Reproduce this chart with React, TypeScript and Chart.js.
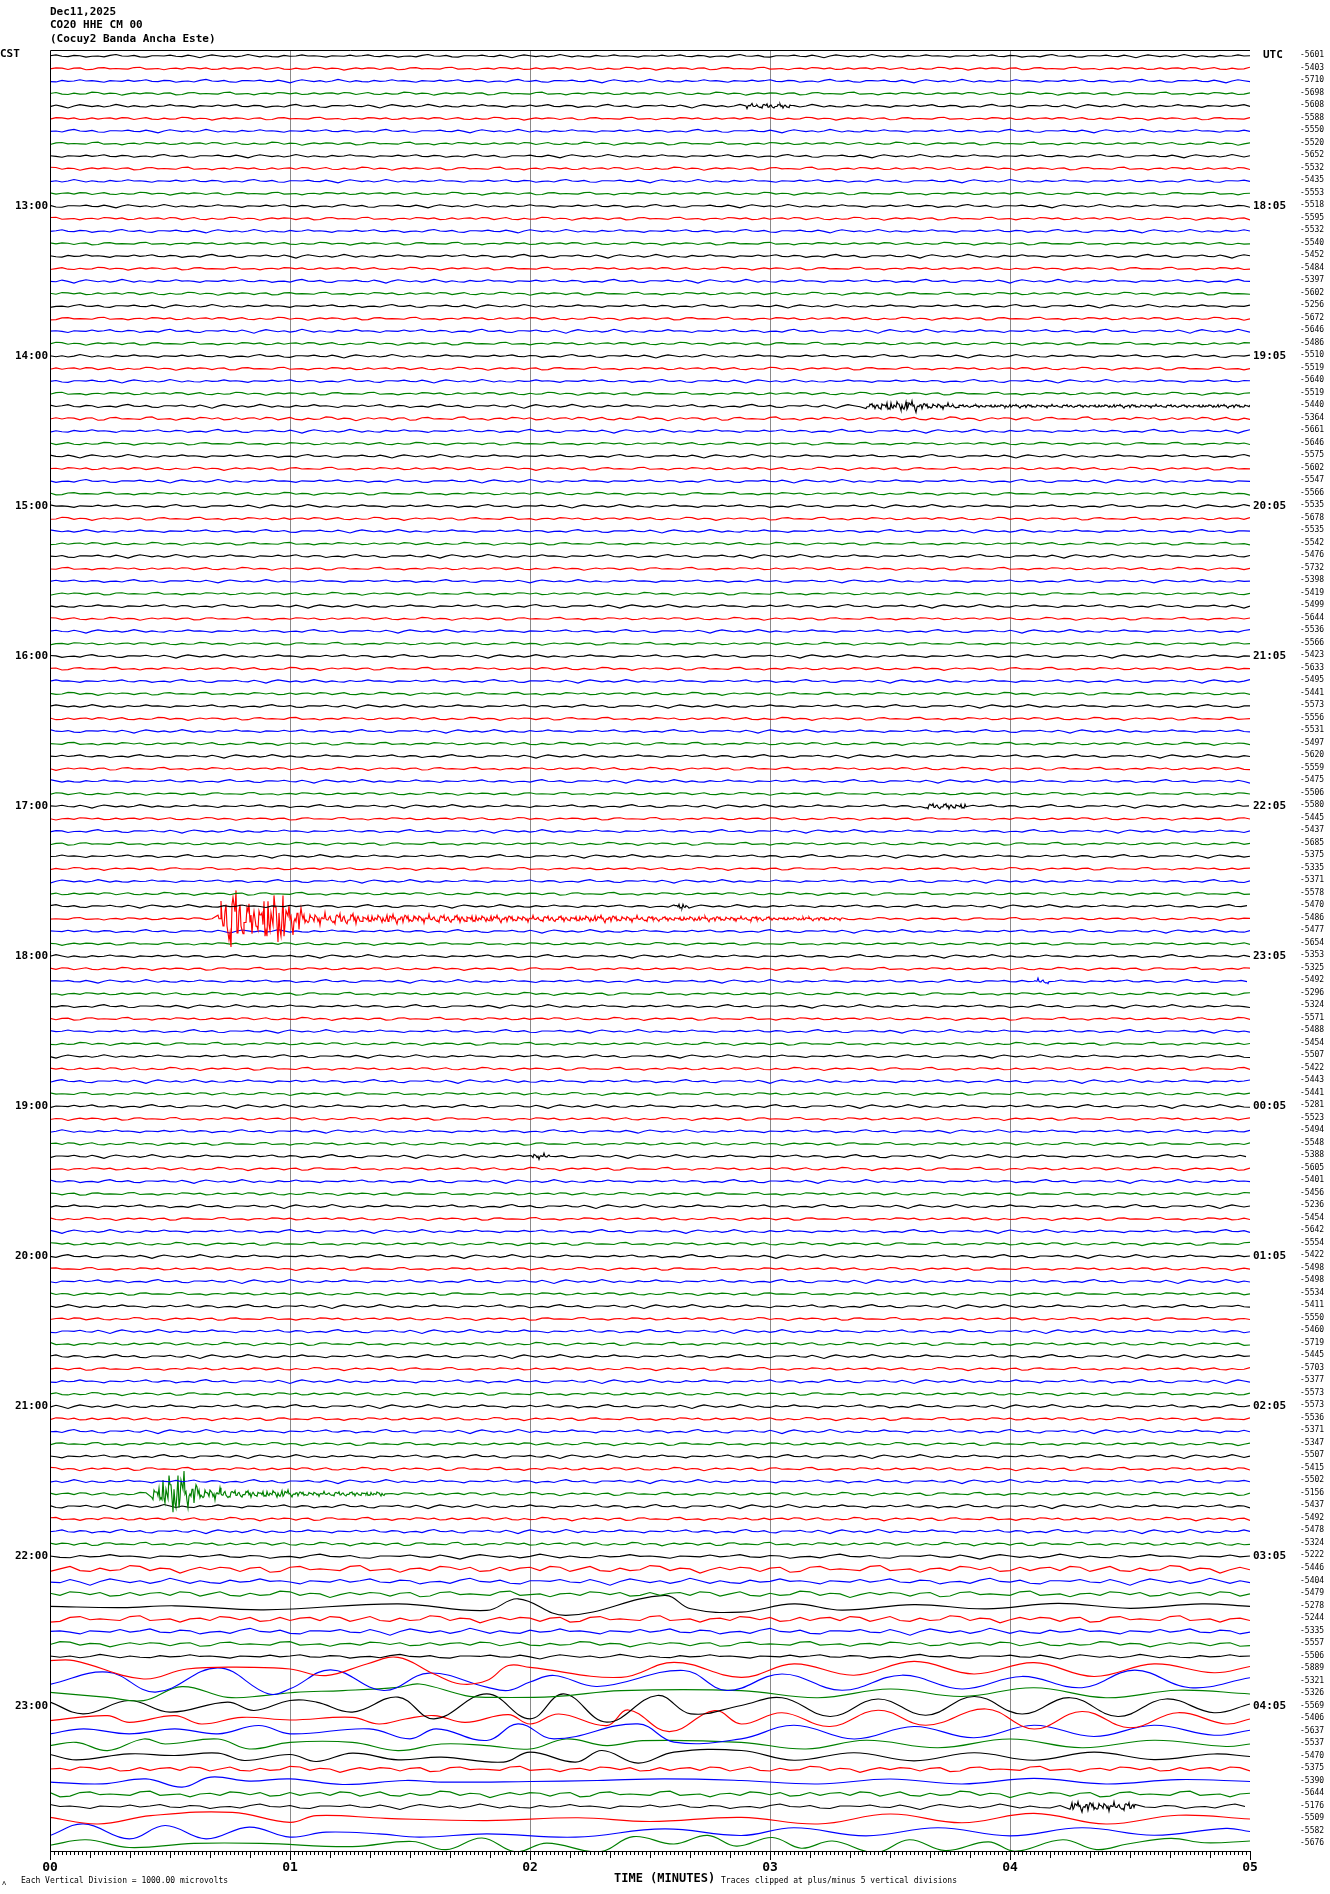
import React, { useEffect, useRef } from "react";
import { Chart, registerables } from "chart.js";

Chart.register(...registerables);

const TRACE_COUNT = 144;
const traceColors = ["#000000", "#ff0000", "#0000ff", "#008000"];

const headerLines = ["Dec11,2025", "CO20 HHE CM 00", "(Cocuy2 Banda Ancha Este)"];
const timeLabelTraces = [12, 24, 36, 48, 60, 72, 84, 96, 108, 120, 132];
const leftTimeLabels = ["13:00", "14:00", "15:00", "16:00", "17:00", "18:00", "19:00", "20:00", "21:00", "22:00", "23:00"];
const rightTimeLabels = ["18:05", "19:05", "20:05", "21:05", "22:05", "23:05", "00:05", "01:05", "02:05", "03:05", "04:05"];
const minuteLabels = ["00", "01", "02", "03", "04", "05"];

const offsetLabels = [
  "-5601", "-5403", "-5710", "-5698", "-5608", "-5588", "-5550", "-5520", "-5652", "-5532", "-5435", "-5553",
  "-5518", "-5595", "-5532", "-5540", "-5452", "-5484", "-5397", "-5602", "-5256", "-5672", "-5646", "-5486",
  "-5510", "-5519", "-5640", "-5519", "-5440", "-5364", "-5661", "-5646", "-5575", "-5602", "-5547", "-5566",
  "-5535", "-5678", "-5535", "-5542", "-5476", "-5732", "-5398", "-5419", "-5499", "-5644", "-5536", "-5566",
  "-5423", "-5633", "-5495", "-5441", "-5573", "-5556", "-5531", "-5497", "-5620", "-5559", "-5475", "-5506",
  "-5580", "-5445", "-5437", "-5685", "-5375", "-5335", "-5371", "-5578", "-5470", "-5486", "-5477", "-5654",
  "-5353", "-5325", "-5492", "-5296", "-5324", "-5571", "-5488", "-5454", "-5507", "-5422", "-5443", "-5441",
  "-5281", "-5523", "-5494", "-5548", "-5388", "-5605", "-5401", "-5456", "-5236", "-5454", "-5642", "-5554",
  "-5422", "-5498", "-5498", "-5534", "-5411", "-5550", "-5460", "-5719", "-5445", "-5703", "-5377", "-5573",
  "-5573", "-5536", "-5371", "-5347", "-5507", "-5415", "-5502", "-5156", "-5437", "-5492", "-5478", "-5324",
  "-5222", "-5446", "-5404", "-5479", "-5278", "-5244", "-5335", "-5557", "-5506", "-5889", "-5321", "-5326",
  "-5569", "-5406", "-5637", "-5537", "-5470", "-5375", "-5390", "-5644", "-5176", "-5509", "-5582", "-5676",
];

// background noise level of each trace (vertical divisions)
const noiseAmp = [
  0.14, 0.15, 0.15, 0.16, 0.16, 0.15, 0.15, 0.16, 0.15, 0.16, 0.15, 0.15,
  0.15, 0.16, 0.15, 0.15, 0.16, 0.15, 0.16, 0.16, 0.15, 0.16, 0.17, 0.16,
  0.15, 0.16, 0.15, 0.16, 0.17, 0.2, 0.16, 0.15, 0.15, 0.16, 0.15, 0.15,
  0.15, 0.16, 0.15, 0.15, 0.16, 0.15, 0.14, 0.15, 0.16, 0.15, 0.15, 0.15,
  0.15, 0.16, 0.15, 0.16, 0.15, 0.16, 0.15, 0.16, 0.15, 0.16, 0.15, 0.15,
  0.15, 0.15, 0.15, 0.16, 0.15, 0.15, 0.15, 0.16, 0.15, 0.15, 0.15, 0.15,
  0.15, 0.16, 0.15, 0.16, 0.15, 0.16, 0.15, 0.16, 0.15, 0.16, 0.16, 0.16,
  0.16, 0.16, 0.15, 0.16, 0.16, 0.17, 0.16, 0.16, 0.17, 0.16, 0.16, 0.17,
  0.16, 0.16, 0.17, 0.16, 0.17, 0.16, 0.17, 0.18, 0.17, 0.16, 0.17, 0.17,
  0.17, 0.17, 0.18, 0.17, 0.17, 0.18, 0.17, 0.18, 0.18, 0.18, 0.18, 0.19,
  0.22, 0.4, 0.3, 0.34, 0.25, 0.38, 0.3, 0.28, 0.2, 0.3, 0.3, 0.3,
  0.3, 0.3, 0.3, 0.3, 0.3, 0.32, 0.3, 0.34, 0.24, 0.3, 0.3, 0.3,
];

// hand-typed wiggle shape used for the background noise
const noisePattern = [
  1, 3, 4, 2, -1, -3, -2, 0, 2, 3, 1, -2, -4, -3, -1, 1, 0, -2, -3, -1, 2, 4, 5, 3, 0, -2, -1, 1, 2, 0,
  -3, -5, -4, -1, 1, 2, 1, -1, 0, 2, 3, 1, -1, -3, -2, 1, 3, 2, -1, -4, -6, -3, 0, 2, 4, 3, 1, -1, -2, 0,
  1, -1, -3, -2, 0, 3, 5, 4, 1, -2, -3, -1, 1, 0, -2, -4, -3, 0, 2, 1, -1, -2, 0, 3, 4, 2, 0, -1, 1, 2,
  -1, -3, -4, -2, 1, 2, 0, -2, -1, 1, 3, 2, -1, -2,
];

// earthquake / local events: [startMinute, endMinute, amplitude]
const eventTraces = [4, 28, 60, 68, 69, 74, 88, 115, 140];
const eventSegments = [
  [[2.9, 3.1, 0.25]],
  [[3.38, 3.45, 0.3], [3.45, 3.62, 0.5], [3.62, 3.78, 0.3], [3.78, 5.0, 0.16]],
  [[3.65, 3.82, 0.3]],
  [[2.6, 2.66, 0.3]],
  [[0.69, 0.72, 1.7], [0.72, 0.8, 3.4], [0.8, 0.88, 1.8], [0.88, 0.98, 2.8], [0.98, 1.05, 1.3], [1.05, 1.3, 0.6], [1.3, 1.8, 0.42], [1.8, 2.5, 0.32], [2.5, 3.0, 0.24], [3.0, 3.3, 0.17]],
  [[4.1, 4.16, 0.3]],
  [[2.0, 2.08, 0.3]],
  [[0.42, 0.47, 0.9], [0.47, 0.56, 2.2], [0.56, 0.62, 1.1], [0.62, 0.75, 0.6], [0.75, 1.0, 0.38], [1.0, 1.4, 0.24]],
  [[4.24, 4.52, 0.45]],
];

// long-period swell: turning points [minute, displacement]
const swellTraces = [124, 129, 130, 131, 132, 133, 134, 135, 136, 138, 141, 142, 143];
const swellPoints = [
  [[0, 0], [0.3, -0.1], [0.52, 0.05], [0.89, -0.27], [1.45, 0.21], [1.82, -0.32], [1.95, 0.61], [2.15, -0.72], [2.56, 0.88], [2.67, -0.19], [2.88, -0.45], [3.1, 0.2], [3.3, -0.3], [3.6, 0.15], [3.9, -0.2], [4.2, 0.25], [4.5, -0.15], [4.8, 0.2], [5, 0]],
  [[0, 0.67], [0.1, 0.67], [0.39, -0.8], [0.57, 0], [0.85, 0.13], [1.0, 0], [1.15, -0.53], [1.32, 0.4], [1.45, 0.93], [1.6, -0.4], [1.71, -1.2], [1.82, -0.93], [1.91, 0.27], [2.0, 0.13], [2.38, -0.67], [2.6, 0.53], [2.88, -0.67], [3.1, 0.4], [3.35, -0.5], [3.6, 0.6], [3.85, -0.4], [4.1, 0.5], [4.35, -0.6], [4.6, 0.4], [4.85, -0.3], [5, 0.2]],
  [[0, -0.24], [0.24, 0.75], [0.44, -0.85], [0.7, 1.09], [0.91, -0.99], [1.0, -0.59], [1.17, 0.93], [1.39, -0.72], [1.58, 0.67], [1.82, -0.45], [1.91, -0.72], [2.0, -0.05], [2.1, 0.48], [2.28, -0.4], [2.64, 0.88], [2.82, -0.72], [3.05, 0.6], [3.3, -0.7], [3.55, 0.5], [3.8, -0.6], [4.05, 0.4], [4.3, -0.5], [4.52, 0.9], [4.75, -0.5], [5, 0.3]],
  [[0, 0.13], [0.24, -0.27], [0.39, -0.53], [0.55, 0.59], [0.74, -0.27], [0.89, -0.13], [1.02, 0.13], [1.22, 0.27], [1.45, 0.53], [1.54, 0.8], [1.73, -0.13], [1.82, -0.27], [2.1, -0.21], [2.38, 0.27], [2.88, 0.27], [3.2, -0.3], [3.5, 0.4], [3.8, -0.2], [4.1, 0.5], [4.4, -0.3], [4.7, 0.3], [5, 0]],
  [[0, 0.35], [0.14, -0.59], [0.33, 0.48], [0.5, -0.45], [0.74, 0.35], [0.85, -0.32], [1.0, 0.48], [1.11, 0.35], [1.26, -0.45], [1.45, 0.75], [1.6, -0.99], [1.82, 1.01], [2.0, -0.99], [2.14, 1.01], [2.32, -1.25], [2.53, 0.88], [2.67, -0.59], [2.88, 0.08], [3.05, 0.7], [3.25, -0.8], [3.45, 0.6], [3.65, -0.7], [3.85, 0.8], [4.05, -0.6], [4.25, 0.7], [4.45, -0.8], [4.65, 0.6], [4.85, -0.5], [5, 0.2]],
  [[0, -0.13], [0.24, 0.27], [0.33, -0.27], [0.52, 0.27], [0.63, -0.4], [0.8, 0.13], [1.0, -0.08], [1.26, 0.13], [1.37, -0.4], [1.48, 0], [1.6, 0.27], [1.73, -0.27], [1.91, 0.35], [2.0, -0.4], [2.12, 0.4], [2.32, -0.53], [2.41, 0.72], [2.58, -1.01], [2.77, 0.67], [2.88, -0.4], [3.05, 0.5], [3.25, -0.6], [3.45, 0.7], [3.65, -0.5], [3.9, 0.8], [4.1, -0.8], [4.3, 0.6], [4.5, -0.7], [4.7, 0.5], [4.9, -0.4], [5, 0]],
  [[0, -0.19], [0.14, 0.21], [0.33, -0.19], [0.52, 0.21], [0.7, -0.19], [0.87, 0.48], [1.0, -0.19], [1.33, 0.21], [1.5, -0.59], [1.61, 0.21], [1.82, -0.72], [1.95, 0.61], [2.1, -0.59], [2.45, 0.61], [2.6, -0.85], [2.88, -0.59], [3.1, 0.5], [3.35, -0.6], [3.6, 0.4], [3.85, -0.5], [4.1, 0.5], [4.35, -0.4], [4.6, 0.5], [4.85, -0.3], [5, 0.1]],
  [[0, -0.13], [0.11, 0.13], [0.24, -0.53], [0.39, 0.4], [0.48, 0], [0.7, 0.4], [0.83, -0.4], [1.0, 0.13], [1.26, 0.13], [1.45, -0.53], [1.63, 0], [1.82, -0.13], [2.0, -0.4], [2.15, 0.4], [2.32, -0.13], [2.47, 0.27], [2.88, 0.13], [3.15, -0.4], [3.4, 0.3], [3.7, -0.3], [4.0, 0.4], [4.3, -0.3], [4.6, 0.3], [4.9, -0.2], [5, 0]],
  [[0, 0.16], [0.11, -0.27], [0.33, 0.21], [0.52, 0.08], [0.7, 0.27], [0.81, -0.32], [1.0, 0.16], [1.11, -0.4], [1.26, 0.27], [1.45, -0.27], [1.63, -0.05], [1.89, -0.45], [2.0, 0.35], [2.19, -0.45], [2.3, 0.48], [2.45, -0.53], [2.6, 0.35], [2.88, 0.48], [3.1, -0.3], [3.35, 0.3], [3.6, -0.35], [3.85, 0.3], [4.1, -0.3], [4.35, 0.35], [4.6, -0.25], [4.85, 0.2], [5, 0]],
  [[0, -0.05], [0.22, -0.19], [0.4, 0.21], [0.55, -0.45], [0.67, 0.35], [0.83, 0.03], [1.0, 0.21], [1.22, -0.24], [1.48, 0.08], [1.63, -0.05], [2.0, 0], [2.28, 0.08], [2.56, 0.21], [2.88, 0.08], [3.2, -0.2], [3.5, 0.2], [3.8, -0.2], [4.1, 0.25], [4.4, -0.2], [4.7, 0.15], [5, 0]],
  [[0, 0.13], [0.2, -0.4], [0.42, 0.27], [0.76, 0.53], [1.0, -0.27], [1.11, 0.27], [1.4, 0.05], [1.82, -0.13], [2.2, 0.1], [2.5, -0.2], [2.88, 0.13], [3.2, -0.4], [3.5, 0.4], [3.8, -0.3], [4.1, 0.45], [4.4, -0.4], [4.7, 0.3], [5, 0]],
  [[0, -0.32], [0.14, 0.61], [0.33, -0.59], [0.48, 0.48], [0.65, -0.59], [0.83, 0.35], [1.0, -0.45], [1.15, -0.05], [1.37, -0.19], [1.54, -0.45], [1.82, -0.19], [2.19, -0.45], [2.56, 0.21], [2.88, -0.32], [3.1, 0.3], [3.4, -0.35], [3.7, 0.3], [4.0, -0.35], [4.3, 0.3], [4.6, -0.3], [4.9, 0.25], [5, 0]],
  [[0, -0.1], [0.15, 0.34], [0.33, -0.28], [0.6, 0.05], [0.88, 0.05], [1.26, -0.21], [1.51, 0.2], [1.65, -0.45], [1.8, 0.48], [1.94, -0.62], [2.07, 0.07], [2.29, -0.62], [2.43, 0.59], [2.6, 0], [2.74, 0.69], [2.86, -0.17], [3.01, 0.52], [3.13, -0.34], [3.26, 0.24], [3.44, -0.69], [3.58, 0.34], [3.73, -0.52], [3.91, 0.17], [4.02, -0.59], [4.22, 0.34], [4.36, -0.45], [4.49, 0], [4.67, 0.45], [4.81, 0.1], [5, 0.24]],
];

function buildTrace(i: number) {
  const sIdx = swellTraces.indexOf(i);
  if (sIdx >= 0) {
    return swellPoints[sIdx].map(([m, v]) => ({ x: m * 60, y: i - v }));
  }
  const L = noisePattern.length;
  const eIdx = eventTraces.indexOf(i);
  const segs = eIdx >= 0 ? eventSegments[eIdx] : [];
  const step = i >= 120 ? 2.5 : 1.5;
  const off = (i * 37) % L;
  const pts: { x: number; y: number }[] = [];
  let t = 0;
  let k = 0;
  while (t <= 300.0001) {
    const seg = segs.find((s) => t >= s[0] * 60 && t < s[1] * 60);
    if (seg) {
      const v = (seg[2] * noisePattern[(k * 7 + off) % L]) / 6;
      pts.push({ x: t, y: i - v });
      t += 0.25;
    } else {
      const v = (noiseAmp[i] * noisePattern[(k * 2 + off) % L]) / 6;
      pts.push({ x: t, y: i - v });
      t += step;
    }
    k++;
  }
  return pts;
}

const MONO = '"DejaVu Sans Mono", "Liberation Mono", monospace';

const decorPlugin = {
  id: "helicorderDecor",
  beforeDatasetsDraw(chart: any) {
    const { ctx, chartArea } = chart;
    const xs = chart.scales.x;
    ctx.save();
    ctx.strokeStyle = "#8a8a8a";
    ctx.lineWidth = 1;
    for (let m = 1; m <= 4; m++) {
      const px = Math.round(xs.getPixelForValue(m * 60)) + 0.5;
      ctx.beginPath();
      ctx.moveTo(px, chartArea.top);
      ctx.lineTo(px, chartArea.bottom);
      ctx.stroke();
    }
    ctx.restore();
  },
  afterDraw(chart: any) {
    const { ctx, chartArea } = chart;
    const xs = chart.scales.x;
    const ys = chart.scales.y;
    ctx.save();
    ctx.strokeStyle = "#000";
    ctx.lineWidth = 1;
    ctx.beginPath();
    ctx.moveTo(chartArea.left + 0.5, chartArea.bottom);
    ctx.lineTo(chartArea.left + 0.5, chartArea.top + 0.5);
    ctx.lineTo(chartArea.right, chartArea.top + 0.5);
    ctx.moveTo(chartArea.left, chartArea.bottom + 0.5);
    ctx.lineTo(chartArea.right + 1, chartArea.bottom + 0.5);
    ctx.stroke();
    for (let s = 0; s <= 300; s++) {
      const px = Math.round(xs.getPixelForValue(s)) + 0.5;
      const len = s % 60 === 0 ? 9 : s % 10 === 0 ? 7 : 4;
      ctx.beginPath();
      ctx.moveTo(px, chartArea.bottom);
      ctx.lineTo(px, chartArea.bottom + len);
      ctx.stroke();
    }
    ctx.fillStyle = "#000";
    ctx.textBaseline = "middle";
    ctx.font = `bold 11px ${MONO}`;
    ctx.textAlign = "left";
    headerLines.forEach((line, n) => ctx.fillText(line, 50, 12 + n * 13.5));
    ctx.fillText("CST", 0, 54);
    ctx.fillText("UTC", 1263, 55);
    timeLabelTraces.forEach((tr, n) => {
      const py = ys.getPixelForValue(tr);
      ctx.textAlign = "right";
      ctx.fillText(leftTimeLabels[n], 48, py);
      ctx.textAlign = "left";
      ctx.fillText(rightTimeLabels[n], 1253, py);
    });
    ctx.font = `8px ${MONO}`;
    ctx.textAlign = "left";
    for (let i = 0; i < TRACE_COUNT; i++) {
      ctx.fillText(offsetLabels[i], 1300, ys.getPixelForValue(i) - 1);
    }
    ctx.font = `bold 13px ${MONO}`;
    ctx.textAlign = "center";
    minuteLabels.forEach((lab, m) => ctx.fillText(lab, xs.getPixelForValue(m * 60), 1868));
    ctx.font = `bold 12px ${MONO}`;
    ctx.textAlign = "left";
    ctx.fillText("TIME (MINUTES)", 614, 1879);
    ctx.font = `8px ${MONO}`;
    ctx.fillText("Each Vertical Division = 1000.00 microvolts", 21, 1881);
    ctx.fillText("Traces clipped at plus/minus 5 vertical divisions", 721, 1881);
    ctx.font = `7px ${MONO}`;
    ctx.fillText("\u028c", 2, 1883);
    ctx.restore();
  },
};

export default function App() {
  const canvasRef = useRef<HTMLCanvasElement | null>(null);

  useEffect(() => {
    const canvas = canvasRef.current;
    if (!canvas) return;
    const datasets = [];
    for (let i = 0; i < TRACE_COUNT; i++) {
      const isSwell = swellTraces.indexOf(i) >= 0;
      datasets.push({
        label: `trace${i}`,
        data: buildTrace(i),
        borderColor: traceColors[i % 4],
        borderWidth: 1.15,
        pointRadius: 0,
        fill: false,
        tension: isSwell ? 0.4 : 0,
      });
    }
    const chart = new Chart(canvas, {
      type: "line",
      data: { datasets },
      options: {
        animation: false,
        responsive: false,
        devicePixelRatio: 1,
        events: [],
        parsing: false,
        layout: { padding: { left: 50, right: 80, top: 50, bottom: 43 } },
        plugins: { legend: { display: false }, tooltip: { enabled: false }, title: { display: false } },
        scales: {
          x: { type: "linear", display: false, min: 0, max: 300 },
          y: { type: "linear", display: false, min: -0.48, max: 143.56, reverse: true },
        },
      },
      plugins: [decorPlugin],
    } as any);
    return () => chart.destroy();
  }, []);

  return (
    <div style={{ position: "absolute", left: 0, top: 0, width: 1330, height: 1894, background: "#fff" }}>
      <canvas ref={canvasRef} width={1330} height={1894} style={{ display: "block", width: 1330, height: 1894 }} />
    </div>
  );
}
